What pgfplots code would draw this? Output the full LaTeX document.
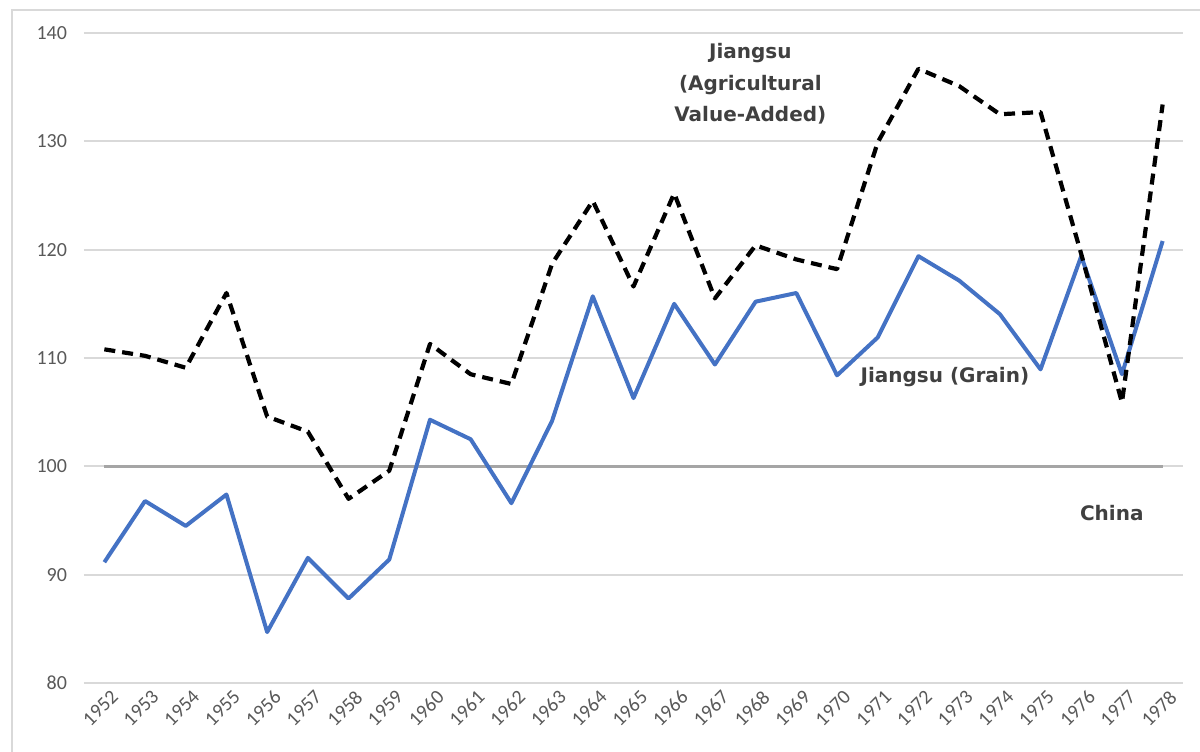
\documentclass[border=0pt]{standalone}
\usepackage{pgfplots}
\pgfplotsset{compat=1.18}
\usepackage{fontspec}
\setmainfont{Carlito}
\newfontfamily\labfont{DejaVu Sans}
\definecolor{gridgray}{HTML}{D9D9D9}
\definecolor{ticktext}{HTML}{595959}
\definecolor{labtext}{HTML}{404040}
\definecolor{grainblue}{HTML}{4472C4}
\definecolor{chinagray}{HTML}{A5A5A5}
\begin{document}
\begin{tikzpicture}
\path[use as bounding box] (-42pt,-34pt) rectangle (558pt,341.5pt);
\draw[gridgray, line width=1pt] (-36pt,-40pt) -- (-36pt,336.5pt) -- (565pt,336.5pt);
\begin{axis}[
  at={(0,0)}, anchor=origin,
  scale only axis,
  width=549.5pt, height=325pt,
  xmin=1951.5, xmax=1978.5,
  ymin=80, ymax=140,
  ytick={80,90,...,140},
  xtick={1952,1953,...,1978},
  axis line style={draw=none},
  major tick length=0pt,
  ymajorgrids,
  grid style={gridgray, line width=0.9pt},
  /pgf/number format/assume math mode=true,
  /pgf/number format/1000 sep={},
  tick label style={font=\fontsize{10}{12}\selectfont, text=ticktext},
  yticklabel style={xshift=-5pt},
  xticklabel style={rotate=45, anchor=north east, inner sep=1pt, xshift=1pt, yshift=-3pt},
  clip=false,
]
\addplot[chinagray, line width=1.6pt] coordinates {(1952,100) (1978,100)};
\addplot[grainblue, line width=2pt, line join=round] coordinates {
(1952,91.15) (1953,96.8) (1954,94.5) (1955,97.4) (1956,84.7) (1957,91.55)
(1958,87.8) (1959,91.4) (1960,104.3) (1961,102.5) (1962,96.6) (1963,104.2)
(1964,115.7) (1965,106.3) (1966,115.0) (1967,109.4) (1968,115.2) (1969,116.0)
(1970,108.4) (1971,111.9) (1972,119.4) (1973,117.15) (1974,114.05) (1975,108.95)
(1976,119.4) (1977,108.5) (1978,120.8)};
\addplot[black, line width=2.1pt, line join=round, dash pattern=on 5.5pt off 3.5pt] coordinates {
(1952,110.8) (1953,110.2) (1954,109.1) (1955,116.0) (1956,104.6) (1957,103.2)
(1958,97.0) (1959,99.6) (1960,111.3) (1961,108.5) (1962,107.6) (1963,118.7)
(1964,124.5) (1965,116.6) (1966,125.2) (1967,115.5) (1968,120.4) (1969,119.1)
(1970,118.2) (1971,129.9) (1972,136.7) (1973,135.1) (1974,132.5) (1975,132.7)
(1976,119.6) (1977,105.9) (1978,133.4)};
\node[font=\labfont\bfseries\fontsize{10}{15.75}\selectfont, text=labtext, align=center]
  at (axis cs:1967.87,135.3) {Jiangsu\\(Agricultural\\Value-Added)};
\node[font=\labfont\bfseries\fontsize{10}{12}\selectfont, text=labtext]
  at (axis cs:1972.65,108.25) {Jiangsu (Grain)};
\node[font=\labfont\bfseries\fontsize{10}{12}\selectfont, text=labtext]
  at (axis cs:1976.75,95.7) {China};
\end{axis}
\end{tikzpicture}
\end{document}
